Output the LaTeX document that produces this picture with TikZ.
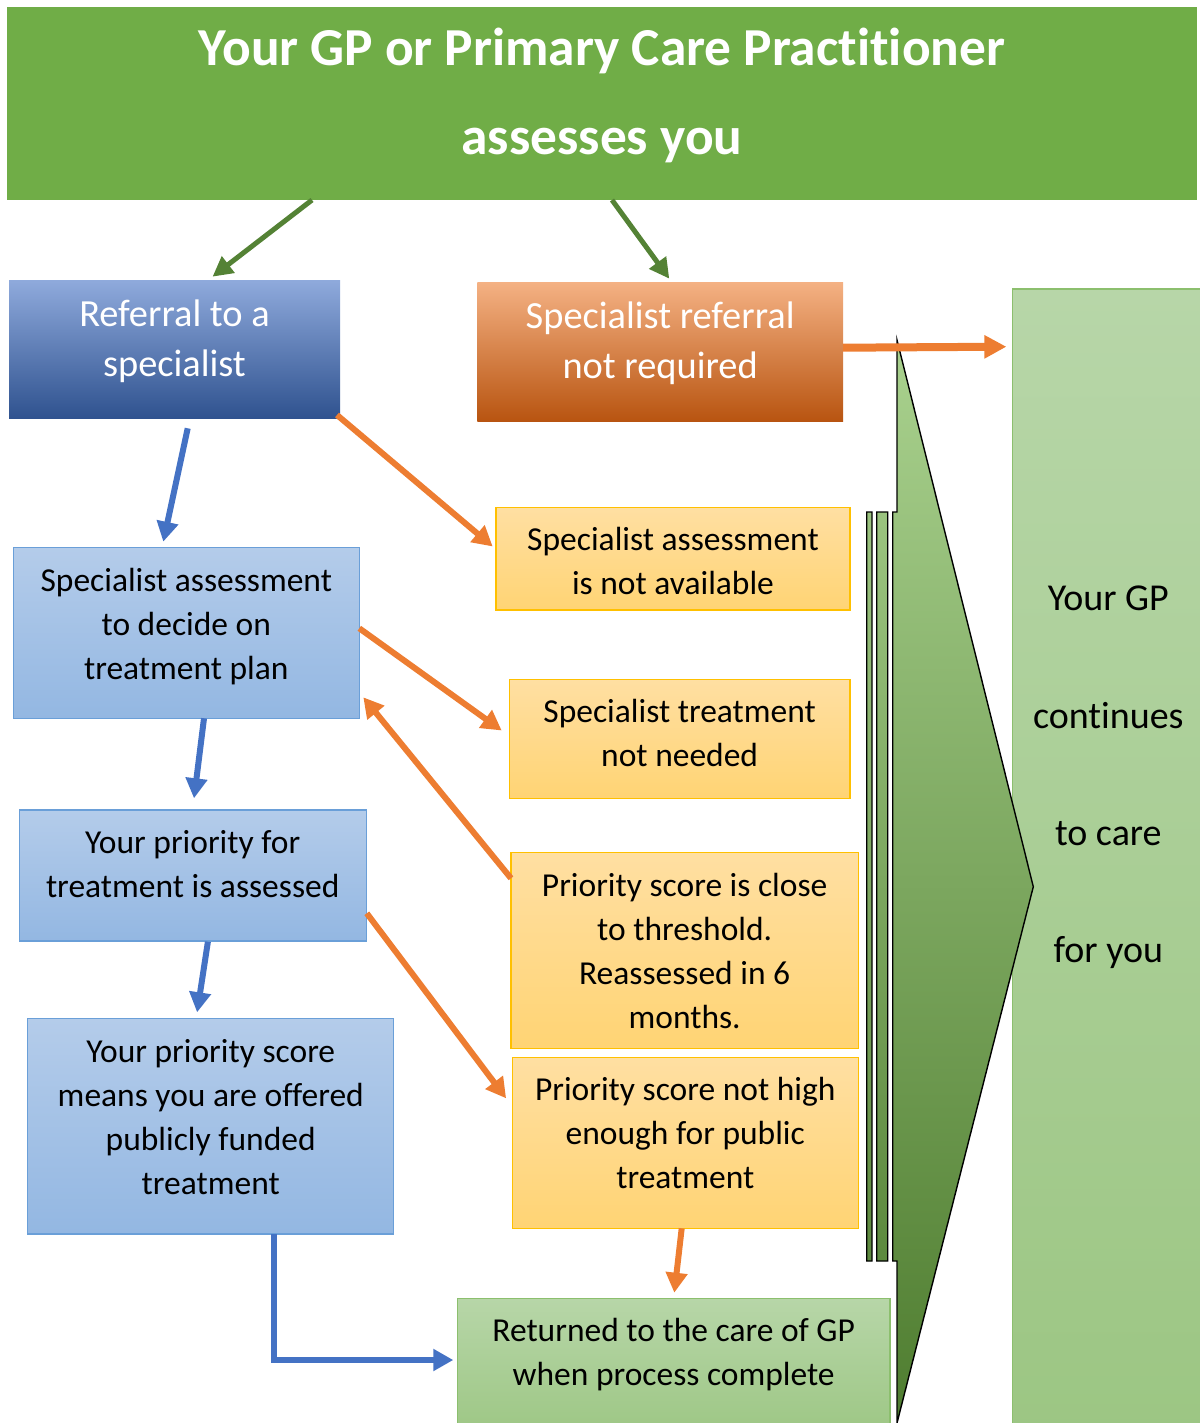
\documentclass[tikz,border=0pt]{standalone}
\usepackage{fontspec}
\setmainfont{Carlito}[Ligatures={NoCommon,NoContextual,NoRequired,NoRare}]
\usetikzlibrary{arrows.meta,calc}

% keeps "t" and "i" as separate glyphs
\newcommand{\tisep}{t\kern0pt i}

% palette
\definecolor{bannergreen}{HTML}{70AD47}
\definecolor{arrowgreen}{HTML}{548235}
\definecolor{arrowblue}{HTML}{4472C4}
\definecolor{arroworange}{HTML}{ED7D31}
\definecolor{refTop}{HTML}{8FAADC}
\definecolor{refMid}{HTML}{4472C4}
\definecolor{refBot}{HTML}{2F528F}
\definecolor{nrTop}{HTML}{F4B183}
\definecolor{nrMid}{HTML}{ED7D31}
\definecolor{nrBot}{HTML}{B85410}
\definecolor{lbTop}{HTML}{B4CCEA}
\definecolor{lbBot}{HTML}{93B7E2}
\definecolor{lbLine}{HTML}{6A9FD8}
\definecolor{ylTop}{HTML}{FFDFA2}
\definecolor{ylBot}{HTML}{FFD474}
\definecolor{ylLine}{HTML}{FFC000}
\definecolor{lgTop}{HTML}{B7D6A8}
\definecolor{lgBot}{HTML}{9CC683}
\definecolor{lgLine}{HTML}{8CBF6E}
\definecolor{wedgeTop}{HTML}{A9D18E}
\definecolor{wedgeMid}{HTML}{72AF45}
\definecolor{wedgeBot}{HTML}{4F7D30}

\begin{document}
\begin{tikzpicture}[x=0.5pt,y=-0.5pt,
  plainbox/.style={rectangle, inner sep=0pt, outer sep=0pt},
  bluebox/.style={plainbox, draw=lbLine, line width=0.6pt, top color=lbTop, bottom color=lbBot},
  yellowbox/.style={plainbox, draw=ylLine, line width=0.6pt, top color=ylTop, bottom color=ylBot},
  greenbox/.style={plainbox, draw=lgLine, line width=0.6pt, top color=lgTop, bottom color=lgBot},
  bodytext/.style={inner sep=0pt, align=center, text=black, font=\fontsize{16.75pt}{22pt}\selectfont},
  headtext/.style={inner sep=0pt, align=center, text=white, font=\fontsize{19.2pt}{25pt}\selectfont},
  sidetext/.style={inner sep=0pt, align=center, text=black, font=\fontsize{19pt}{58.65pt}\selectfont},
  titletext/.style={inner sep=0pt, align=center, text=white, font=\fontsize{26.7pt}{44.5pt}\selectfont\bfseries},
  garrow/.style={draw=arrowgreen, line width=2.5pt, -{Triangle[width=10pt,length=10pt]}},
  barrow/.style={draw=arrowblue, line width=3pt, -{Triangle[width=10.5pt,length=10pt]}},
  oarrow/.style={draw=arroworange, line width=3pt, -{Triangle[width=10.5pt,length=10pt]}},
  obigarrow/.style={draw=arroworange, line width=4pt, -{Triangle[width=11pt,length=11pt]}},
]
\useasboundingbox (0,0) rectangle (1199,1423);

% ---------- boxes ----------
\node[plainbox, fill=bannergreen, minimum width=595pt, minimum height=96.5pt] (banner) at (602,103.5) {};
\node[titletext] (banner-t) at (602,95.3) {Your GP or Primary Care Prac\tisep\tisep oner\\assesses you};

\node[plainbox, top color=refTop, middle color=refMid, bottom color=refBot,
      minimum width=165.5pt, minimum height=69.35pt] (ref) at (174.5,349.35) {};
\node[headtext] (ref-t) at (174.5,340.8) {Referral to a\\specialist};

\node[plainbox, top color=nrTop, middle color=nrMid, bottom color=nrBot,
      minimum width=182.85pt, minimum height=69.5pt] (notreq) at (660.15,352.2) {};
\node[headtext] (notreq-t) at (660.15,343.5) {Specialist referral\\not required};

\node[yellowbox, minimum width=177pt, minimum height=51.15pt] (notavail) at (673,558.85) {};
\node[bodytext] (notavail-t) at (673,561.4) {Specialist assessment\\is not available};

\node[bluebox, minimum width=173pt, minimum height=85.5pt] (specA) at (186.3,632.8) {};
\node[bodytext] (specA-t) at (186.3,626.3) {Specialist assessment\\to decide on\\treatment plan};

\node[yellowbox, minimum width=170.35pt, minimum height=59.5pt] (notneeded) at (679.65,738.8) {};
\node[bodytext] (notneeded-t) at (679.65,732.8) {Specialist treatment\\not needed};

\node[bluebox, minimum width=173.4pt, minimum height=65.5pt] (prio) at (192.7,875.5) {};
\node[bodytext] (prio-t) at (192.7,864.1) {Your priority for\\treatment is assessed};

\node[yellowbox, minimum width=173.65pt, minimum height=97.8pt] (close) at (684.65,950.5) {};
\node[bodytext] (close-t) at (684.65,950.9) {Priority score is close\\to threshold.\\Reassessed in 6\\months.};

\node[yellowbox, minimum width=173pt, minimum height=85.5pt] (nothigh) at (685.3,1142.8) {};
\node[bodytext] (nothigh-t) at (685.3,1132.8) {Priority score not high\\enough for public\\treatment};

\node[bluebox, minimum width=183.05pt, minimum height=107.85pt] (score) at (210.75,1126.15) {};
\node[bodytext] (score-t) at (210.75,1117.3) {Your priority score\\means you are offered\\publicly funded\\treatment};

\node[greenbox, minimum width=216.35pt, minimum height=70.85pt] (returned) at (673.65,1369.15) {};
\node[bodytext] (returned-t) at (673.65,1355) {Returned to the care of GP\\when process complete};

\node[greenbox, minimum width=95.15pt, minimum height=575.5pt] (right) at (1107.85,864.5) {};
\node[sidetext] (right-t) at (1108.3,777.5) {Your GP\\con\tisep nues\\to care\\for you};

% ---------- wedge pointing at the right-hand column ----------
\path[draw=black, line width=0.7pt, line join=miter,
      top color=wedgeTop, middle color=wedgeMid, bottom color=wedgeBot]
  (897,340) -- (1033.3,886.7) -- (897,1423) -- (897,1261) -- (892.7,1261)
  -- (892.7,512) -- (897,512) -- cycle
  (866.7,512) rectangle (872,1261)
  (876.7,512) rectangle (887.7,1261);

% ---------- connectors ----------
\draw[garrow] ($(banner.south west)+(305,0)$) -- ($(ref.north west)+(203.5,-3.3)$);
\draw[garrow] ($(banner.south west)+(605,0)$) -- ($(notreq.north west)+(192,-4)$);
\draw[obigarrow] ($(notreq.east)+(0,-4.5)$) -- ($(right.north west)+(-6.3,57.7)$);

\draw[barrow] ($(ref.south west)+(178.7,9.6)$) -- ($(specA.north west)+(150,-5.6)$);
\draw[oarrow] ($(ref.south east)+(-3,-3.7)$) -- ($(notavail.north west)+(-3.3,38.8)$);

\draw[oarrow] ($(specA.east)+(0,-4.5)$) -- ($(notneeded.west)+(-7.6,-8.3)$);
\draw[oarrow] ($(close.north west)+(0,25.6)$) -- ($(specA.south east)+(4,-21)$);
\draw[barrow] ($(specA.south west)+(190.7,0)$) -- ($(prio.north west)+(174.7,-11.7)$);

\draw[oarrow] ($(prio.south east)+(0.7,-27.7)$) -- ($(nothigh.north west)+(-6.2,41)$);
\draw[barrow] ($(prio.south west)+(188.6,0.7)$) -- ($(score.north west)+(169.4,-6)$);

\draw[oarrow] ($(nothigh.south west)+(169.4,0)$) -- ($(returned.north west)+(217,-5.6)$);
\draw[barrow] ($(score.south west)+(246.1,0)$) |- ($(returned.north west)+(-4,61.7)$);

\end{tikzpicture}
\end{document}
